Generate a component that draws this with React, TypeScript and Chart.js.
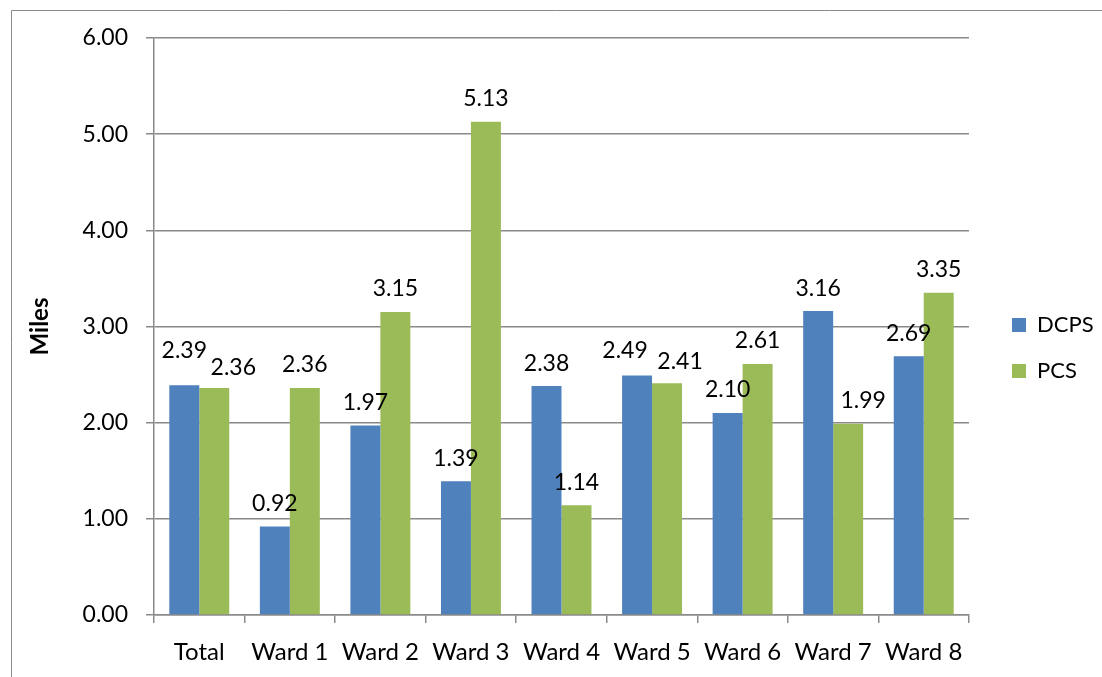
import { useEffect, useRef } from "react";
import { Chart, registerables } from "chart.js";

Chart.register(...registerables);

const categories = ["Total", "Ward 1", "Ward 2", "Ward 3", "Ward 4", "Ward 5", "Ward 6", "Ward 7", "Ward 8"];
const dcpsValues = [2.39, 0.92, 1.97, 1.39, 2.38, 2.49, 2.1, 3.16, 2.69];
const pcsValues = [2.36, 2.36, 3.15, 5.13, 1.14, 2.41, 2.61, 1.99, 3.35];
const seriesNames = ["DCPS", "PCS"];
const seriesColors = ["#4F81BD", "#9BBB59"];
const yMin = 0;
const yMax = 6;
const yStep = 1;
const yTitle = "Miles";

const FONT = "Lato";
const GREY = "#8a8a8a";

// small label nudges (dataset-category -> [dx, dy]) to avoid overlapping labels
const labelNudges: Record<string, [number, number]> = {
  "0-0": [0, -12],
  "1-0": [19, 3],
  "0-5": [-12, -2],
  "1-5": [13, 1],
  "1-7": [15, 0],
};

const framePlugin = {
  id: "frame",
  beforeDraw(chart: any) {
    const ctx = chart.ctx;
    ctx.save();
    ctx.fillStyle = "#ffffff";
    ctx.fillRect(0, 0, chart.width, chart.height);
    ctx.strokeStyle = GREY;
    ctx.lineWidth = 1;
    ctx.beginPath();
    ctx.moveTo(11.5, chart.height);
    ctx.lineTo(11.5, 10.5);
    ctx.lineTo(chart.width, 10.5);
    ctx.stroke();
    ctx.restore();
  },
};

const labelsPlugin = {
  id: "valueLabels",
  afterDatasetsDraw(chart: any) {
    const ctx = chart.ctx;
    ctx.save();
    ctx.font = `23px ${FONT}`;
    ctx.fillStyle = "#000000";
    ctx.textAlign = "center";
    ctx.textBaseline = "middle";
    chart.data.datasets.forEach((ds: any, di: number) => {
      const meta = chart.getDatasetMeta(di);
      meta.data.forEach((bar: any, i: number) => {
        const v = ds.data[i];
        const n = labelNudges[`${di}-${i}`] || [0, 0];
        ctx.fillText(v.toFixed(2), bar.x + n[0], bar.y - 23 + n[1]);
      });
    });
    ctx.restore();
  },
};

const legendPlugin = {
  id: "sideLegend",
  afterDraw(chart: any) {
    const ctx = chart.ctx;
    const area = chart.chartArea;
    ctx.save();
    ctx.font = `22px ${FONT}`;
    ctx.textAlign = "left";
    ctx.textBaseline = "middle";
    chart.data.datasets.forEach((ds: any, i: number) => {
      const cy = area.top + 287 + i * 46;
      const x = area.right + 43;
      ctx.fillStyle = ds.backgroundColor;
      ctx.fillRect(x, cy - 7, 14, 14);
      ctx.fillStyle = "#000000";
      ctx.fillText(ds.label, x + 25, cy);
    });
    ctx.restore();
  },
};

export default function App() {
  const ref = useRef<HTMLCanvasElement | null>(null);

  useEffect(() => {
    if (!ref.current) return;
    const chart = new Chart(ref.current, {
      type: "bar",
      data: {
        labels: categories,
        datasets: [
          { label: seriesNames[0], data: dcpsValues, backgroundColor: seriesColors[0] },
          { label: seriesNames[1], data: pcsValues, backgroundColor: seriesColors[1] },
        ],
      },
      options: {
        responsive: false,
        animation: false,
        devicePixelRatio: 1,
        layout: { padding: { left: 0, right: 133, top: 38, bottom: 0 } },
        datasets: {
          bar: { categoryPercentage: 0.662, barPercentage: 1.0, borderWidth: 0 },
        },
        plugins: {
          legend: { display: false },
          tooltip: { enabled: false },
        },
        scales: {
          x: {
            offset: true,
            grid: {
              offset: true,
              drawOnChartArea: false,
              drawTicks: true,
              tickLength: 8,
              color: GREY,
              lineWidth: 1.5,
            },
            border: { color: GREY, width: 1.5 },
            ticks: {
              color: "#000000",
              font: { family: FONT, size: 24 },
              padding: 15,
              maxRotation: 0,
              autoSkip: false,
            },
            afterFit(scale: any) {
              scale.height = 62;
            },
          },
          y: {
            min: yMin,
            max: yMax,
            grid: { color: GREY, lineWidth: 1.5, tickLength: 8, drawTicks: true },
            border: { color: GREY, width: 1.5 },
            ticks: {
              stepSize: yStep,
              color: "#000000",
              font: { family: FONT, size: 23 },
              padding: 18,
              callback: (v: any) => Number(v).toFixed(2),
            },
            title: {
              display: true,
              text: yTitle,
              color: "#000000",
              font: { family: FONT, size: 24, weight: "bold" },
              padding: { top: 26, bottom: 0 },
            },
            afterFit(scale: any) {
              scale.width = 154;
            },
          },
        },
      },
      plugins: [framePlugin, labelsPlugin, legendPlugin],
    });
    return () => chart.destroy();
  }, []);

  return (
    <div style={{ position: "fixed", left: 0, top: 0, width: 1102, height: 677, background: "#fff" }}>
      <canvas ref={ref} width={1102} height={677} style={{ width: 1102, height: 677, display: "block" }} />
    </div>
  );
}
